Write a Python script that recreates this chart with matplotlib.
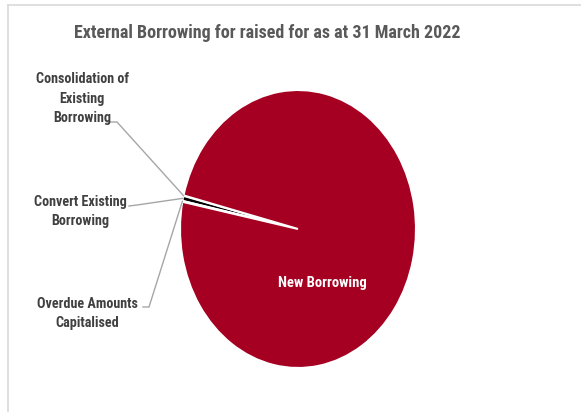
import matplotlib
matplotlib.use("Agg")
import matplotlib.pyplot as plt
import numpy as np
from matplotlib.lines import Line2D

# Borrowing raised, share of total (%)
categories = ["Consolidation of\nExisting\nBorrowing",
              "Convert Existing\nBorrowing",
              "Overdue Amounts\nCapitalised",
              "New Borrowing"]
shares = [0.05, 0.6, 0.1, 99.25]
colors = ["#7F7F7F", "#000000", "#404040", "#A50021"]
title = "External Borrowing for raised for as at 31 March 2022"

W, H = 581, 412
plt.rcParams["font.family"] = ["Liberation Sans Narrow", "Arial Narrow", "Roboto Condensed",
                               "Archivo Narrow", "PT Sans Narrow", "Liberation Sans",
                               "DejaVu Sans"]
fig = plt.figure(figsize=(W / 100, H / 100), dpi=100)


def fp(x, y):
    """Pixel position measured from the top-left corner -> figure fraction."""
    return x / W, 1 - y / H


# chart frame (top and left edges)
frame_kw = dict(transform=fig.transFigure, color="#D9D9D9", lw=1.2)
fig.add_artist(Line2D([8 / W, 1], [1 - 5 / H, 1 - 5 / H], **frame_kw))
fig.add_artist(Line2D([8 / W, 8 / W], [1 - 5 / H, 0], **frame_kw))

fig.text(*fp(267, 33), title, ha="center", va="center", fontsize=13,
         fontweight="bold", color="#595959")

# pie, stretched to fill its axes box
ax = fig.add_axes([180 / W, (H - 368) / H, 236 / W, 278 / H])
wedges, _ = ax.pie(shares, colors=colors, startangle=166, counterclock=True,
                   wedgeprops=dict(edgecolor="white", linewidth=1.5))
ax.set_aspect("auto")
ax.set_xlim(-1, 1)
ax.set_ylim(-1, 1)
ax.axis("off")
for w in wedges:
    w.set_clip_on(False)

fig.text(*fp(322, 283), categories[3], ha="center", va="center", fontsize=10.5,
         fontweight="bold", color="white")

# outside labels with leader lines
label_pos = [(82, 98.5), (80, 211.5), (87, 313.5)]
elbows = [((107, 122), (117, 122)), ((129, 206), (137, 205)), ((143, 307), (149, 307))]
to_fig = ax.transData + fig.transFigure.inverted()
for i in range(3):
    w = wedges[i]
    th = np.deg2rad((w.theta1 + w.theta2) / 2)
    ex, ey = to_fig.transform((np.cos(th), np.sin(th)))
    (x0, y0), (x1, y1) = elbows[i]
    xs = [x0 / W, x1 / W, ex]
    ys = [1 - y0 / H, 1 - y1 / H, ey]
    fig.add_artist(Line2D(xs, ys, transform=fig.transFigure, color="#A6A6A6", lw=1))
    fig.text(*fp(*label_pos[i]), categories[i], ha="center", va="center",
             multialignment="center", fontsize=10.2, fontweight="bold",
             color="#404040", linespacing=1.5)

fig.savefig("out.png", dpi=100)
